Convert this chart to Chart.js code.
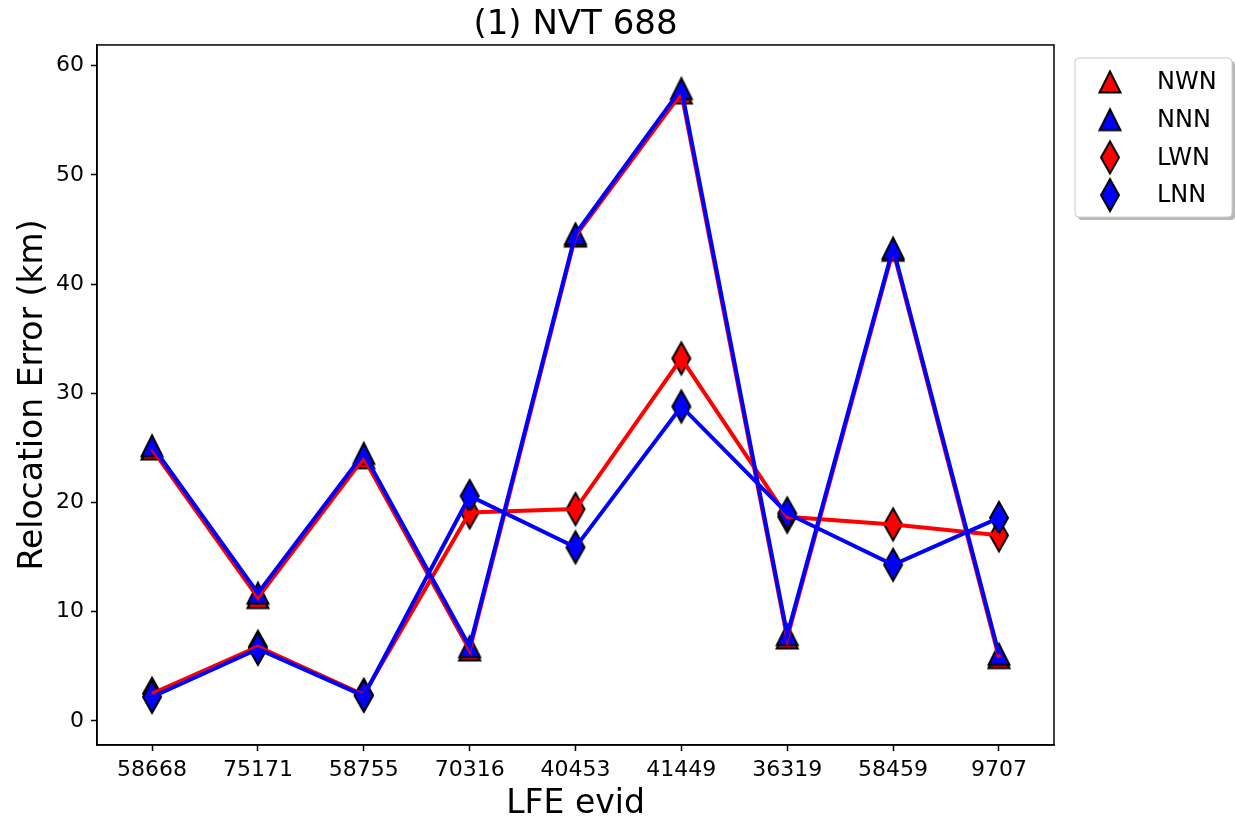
<!DOCTYPE html>
<html><head><meta charset="utf-8">
<script src="https://cdn.jsdelivr.net/npm/chart.js@4.4.0/dist/chart.umd.min.js"></script>
<style>html,body{margin:0;padding:0;background:#fff;}</style>
</head><body>
<canvas id="c" width="1235" height="824"></canvas>
<script>
// ---- data ----
const categories = ['58668','75171','58755','70316','40453','41449','36319','58459','9707'];
const seriesNames = ['NWN','NNN','LWN','LNN'];
const NWN = [24.9, 11.3, 24.1, 6.5, 44.4, 57.5, 7.6, 43.1, 5.8];
const NNN = [25.2, 11.7, 24.5, 6.8, 44.6, 57.9, 7.9, 43.3, 6.1];
const LWN = [2.5, 6.8, 2.4, 19.1, 19.4, 33.2, 18.7, 18.0, 17.0];
const LNN = [2.2, 6.6, 2.3, 20.6, 15.9, 28.8, 19.0, 14.3, 18.6];
const yTickValues = [0, 10, 20, 30, 40, 50, 60];

const RED = '#ff0000', BLUE = '#0000ff';
const FONT = "'DejaVu Sans', sans-serif";
Chart.defaults.font.family = FONT;
Chart.defaults.color = '#000';

function makeMarker(shape, fill) {
  const c = document.createElement('canvas');
  c.width = 30; c.height = 38;
  const g = c.getContext('2d');
  g.fillStyle = fill; g.strokeStyle = '#000'; g.lineWidth = 2; g.lineJoin = 'miter';
  g.beginPath();
  if (shape === 'tri') {
    g.moveTo(15, 8.5); g.lineTo(25.5, 29.5); g.lineTo(4.5, 29.5);
  } else {
    g.moveTo(15, 3); g.lineTo(24, 19); g.lineTo(15, 35); g.lineTo(6, 19);
  }
  g.closePath(); g.fill(); g.stroke();
  return c;
}
const markers = {
  NWN: makeMarker('tri', RED), NNN: makeMarker('tri', BLUE),
  LWN: makeMarker('dia', RED), LNN: makeMarker('dia', BLUE)
};
const seriesData = {NWN, NNN, LWN, LNN};
const seriesColor = {NWN: RED, NNN: BLUE, LWN: RED, LNN: BLUE};
const toXY = arr => arr.map((y, i) => ({x: i, y}));

const markerOrder = {NWN: 7, NNN: 6, LWN: 5, LNN: 4};
const lineOrder = {NWN: 3, LWN: 2, NNN: 1, LNN: 0};
const datasets = [];
seriesNames.forEach(n => {
  datasets.push({label: n, data: toXY(seriesData[n]), showLine: false,
    pointStyle: markers[n], pointRadius: 12, pointHoverRadius: 12, order: markerOrder[n], isMarker: true});
});
seriesNames.forEach(n => {
  datasets.push({label: n + '_line', data: toXY(seriesData[n]), showLine: true,
    borderColor: seriesColor[n], borderWidth: 4, pointRadius: 0, pointHoverRadius: 0,
    tension: 0, fill: false, order: lineOrder[n]});
});

const framePlugin = {
  id: 'frame',
  afterDatasetsDraw(chart) {
    const a = chart.chartArea, ctx = chart.ctx;
    ctx.save(); ctx.strokeStyle = '#000'; ctx.lineWidth = 1.5;
    ctx.strokeRect(a.left, a.top, a.right - a.left, a.bottom - a.top);
    ctx.restore();
  }
};

const legendPlugin = {
  id: 'mplLegend',
  afterDraw(chart) {
    const ctx = chart.ctx;
    const bx = 1075, by = 58, bw = 157, bh = 159, r = 4;
    function rr(x, y, w, h) {
      ctx.beginPath();
      ctx.moveTo(x + r, y); ctx.lineTo(x + w - r, y); ctx.quadraticCurveTo(x + w, y, x + w, y + r);
      ctx.lineTo(x + w, y + h - r); ctx.quadraticCurveTo(x + w, y + h, x + w - r, y + h);
      ctx.lineTo(x + r, y + h); ctx.quadraticCurveTo(x, y + h, x, y + h - r);
      ctx.lineTo(x, y + r); ctx.quadraticCurveTo(x, y, x + r, y); ctx.closePath();
    }
    ctx.save();
    rr(bx + 3, by + 3, bw, bh); ctx.fillStyle = '#b8b8b8'; ctx.fill();
    rr(bx, by, bw, bh); ctx.fillStyle = '#fff'; ctx.fill();
    ctx.strokeStyle = '#cccccc'; ctx.lineWidth = 1; ctx.stroke();
    const ds = chart.data.datasets.filter(d => d.isMarker);
    ds.forEach((d, i) => {
      const cy = 82 + i * 37.7;
      const img = d.pointStyle;
      ctx.drawImage(img, 1110 - img.width / 2, cy - img.height / 2);
      ctx.fillStyle = '#000'; ctx.font = '24px ' + FONT;
      ctx.textBaseline = 'middle'; ctx.textAlign = 'left';
      ctx.fillText(d.label, 1157, cy + 1);
    });
    ctx.restore();
  }
};

new Chart(document.getElementById('c'), {
  type: 'scatter',
  data: {datasets},
  options: {
    responsive: false, devicePixelRatio: 1, animation: false,
    layout: {padding: {left: 14, right: 181, top: 0, bottom: 0}},
    plugins: {
      legend: {display: false}, tooltip: {enabled: false},
      title: {display: true, fullSize: false, text: '(1) NVT 688', color: '#000',
        font: {size: 34, weight: 'normal', family: FONT, lineHeight: 1.14}, padding: {top: 6, bottom: 0.2}}
    },
    scales: {
      x: {
        type: 'linear', min: -0.52, max: 8.52,
        afterBuildTicks: s => { s.ticks = categories.map((_, i) => ({value: i})); },
        afterFit: s => { s.height = 79; },
        ticks: {autoSkip: false, maxRotation: 0, padding: 6, color: '#000',
          font: {size: 22, family: FONT}, callback: v => categories[v]},
        grid: {drawOnChartArea: false, drawTicks: true, tickLength: 6, tickColor: '#000', tickWidth: 1.5},
        border: {display: true, color: '#000', width: 1.5},
        title: {display: true, text: 'LFE evid', color: '#000', font: {size: 33, family: FONT}, padding: 0}
      },
      y: {
        type: 'linear', min: -2.2, max: 61.9,
        afterBuildTicks: s => { s.ticks = yTickValues.map(v => ({value: v})); },
        afterFit: s => { s.width = 83; },
        ticks: {padding: 7, color: '#000', font: {size: 22, family: FONT}, includeBounds: false},
        grid: {drawOnChartArea: false, drawTicks: true, tickLength: 6, tickColor: '#000', tickWidth: 1.5},
        border: {display: true, color: '#000', width: 1.5},
        title: {display: true, text: 'Relocation Error (km)', color: '#000', font: {size: 33, family: FONT}, padding: 0}
      }
    }
  },
  plugins: [framePlugin, legendPlugin]
});
</script>
</body></html>
